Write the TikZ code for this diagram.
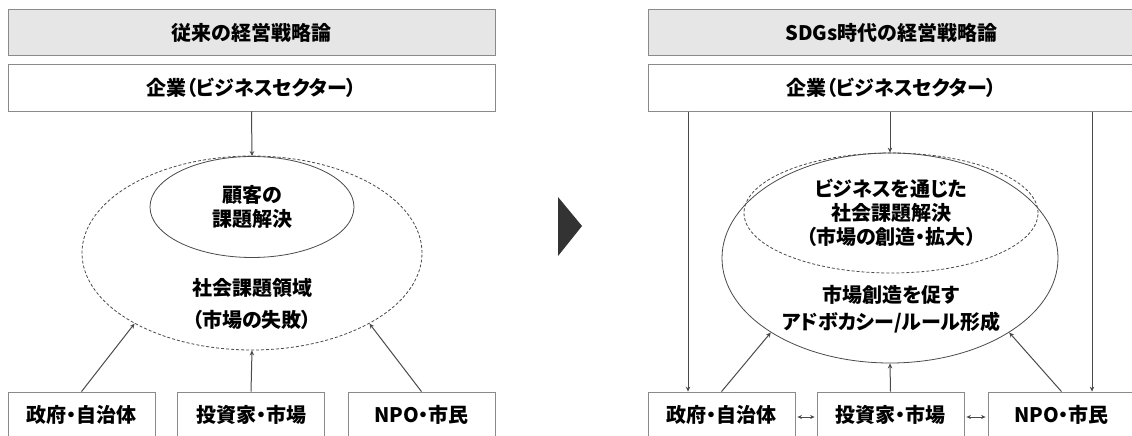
\documentclass[tikz,border=0pt]{standalone}
\usepackage{fontspec}
\setmainfont{Noto Sans CJK JP}[RawFeature=+palt]
\usetikzlibrary{shapes.geometric,arrows.meta}
\definecolor{boxline}{HTML}{8A8A8A}
\definecolor{headfill}{HTML}{E6E6E6}
\definecolor{arrowc}{HTML}{4A4A4A}
\definecolor{tri}{HTML}{333333}
\tikzset{
  txt/.style={font=\fontsize{20}{24}\selectfont\bfseries, text=black},
  headbox/.style={txt, draw=boxline, line width=1pt, fill=headfill, minimum width=487pt, minimum height=46pt, inner sep=0pt},
  compbox/.style={txt, draw=boxline, line width=1pt, fill=white, minimum width=487pt, minimum height=46pt, inner sep=0pt},
  actbox/.style={txt, draw=boxline, line width=0.8pt, fill=white, minimum width=147pt, minimum height=46pt, inner sep=0pt},
  ell/.style={ellipse, draw=arrowc, line width=0.8pt, inner sep=0pt, txt, align=center},
  dell/.style={ell, dashed, dash pattern=on 3pt off 2pt},
  conn/.style={draw=arrowc, line width=1pt, -{Stealth[length=5pt,width=4.5pt]}},
  dconn/.style={draw=arrowc, line width=1pt, {Stealth[length=4.5pt,width=4pt]}-{Stealth[length=4.5pt,width=4pt]}, shorten <=2pt, shorten >=2pt},
  lbl/.style={txt, align=center, inner sep=0pt}
}
\begin{document}
\begin{tikzpicture}[x=1pt,y=-1pt]
\clip (0,0) rectangle (1132,436);
\fill[white] (0,0) rectangle (1132,436);
% ---------- left panel ----------
\node[headbox] (lhead) at (251.5,33) {従来の経営戦略論};
\node[compbox] (lcomp) at (251.5,88) {企業（ビジネスセクター）};
\node[dell, minimum width=340pt, minimum height=194pt] (louter) at (252,253) {};
\node[ell, minimum width=204pt, minimum height=101pt] (linner) at (252,207) {顧客の\\課題解決};
\node[lbl] (lsoc) at (252,304) {社会課題領域\\[8pt]（市場の失敗）};
\node[actbox] (lb1) at (81.5,415) {政府・自治体};
\node[actbox] (lb2) at (251,415) {投資家・市場};
\node[actbox] (lb3) at (421.5,415) {NPO・市民};
\draw[conn] (lcomp.south) -- (linner.north);
\draw[conn] (lb1.north) -- (louter.211);
\draw[conn] (lb2.north) -- (louter.south);
\draw[conn] (lb3.north) -- (louter.329);
% ---------- arrow between panels ----------
\fill[tri] (558,197) -- (582,226) -- (558,256) -- cycle;
% ---------- right panel ----------
\node[headbox] (rhead) at (891.5,33) {SDGs時代の経営戦略論};
\node[compbox] (rcomp) at (891.5,88) {企業（ビジネスセクター）};
\node[ell, minimum width=336pt, minimum height=210pt] (router) at (890,258) {};
\node[dell, minimum width=294pt, minimum height=120pt] (rinner) at (891,213) {ビジネスを通じた\\社会課題解決\\（市場の創造・拡大）};
\node[lbl] (radv) at (891,309) {市場創造を促す\\[3pt]アドボカシー/ルール形成};
\node[actbox] (rb1) at (721.5,415) {政府・自治体};
\node[actbox] (rb2) at (890.5,415) {投資家・市場};
\node[actbox] (rb3) at (1061.5,415) {NPO・市民};
\coordinate (rL) at (688,0);
\coordinate (rR) at (1092,0);
\draw[conn] (rcomp.south -| rL) -- (rb1.north -| rL);
\draw[conn] (rcomp.south -| rR) -- (rb3.north -| rR);
\draw[conn] (rcomp.south -| router.north) -- (router.north);
\draw[conn] (rb1.north) -- (router.212);
\draw[conn] (rb2.north) -- (router.south);
\draw[conn] (rb3.north) -- (router.328);
\draw[dconn] ([yshift=-2pt]rb1.east) -- ([yshift=-2pt]rb2.west);
\draw[dconn] ([yshift=-2pt]rb2.east) -- ([yshift=-2pt]rb3.west);
\end{tikzpicture}
\end{document}
